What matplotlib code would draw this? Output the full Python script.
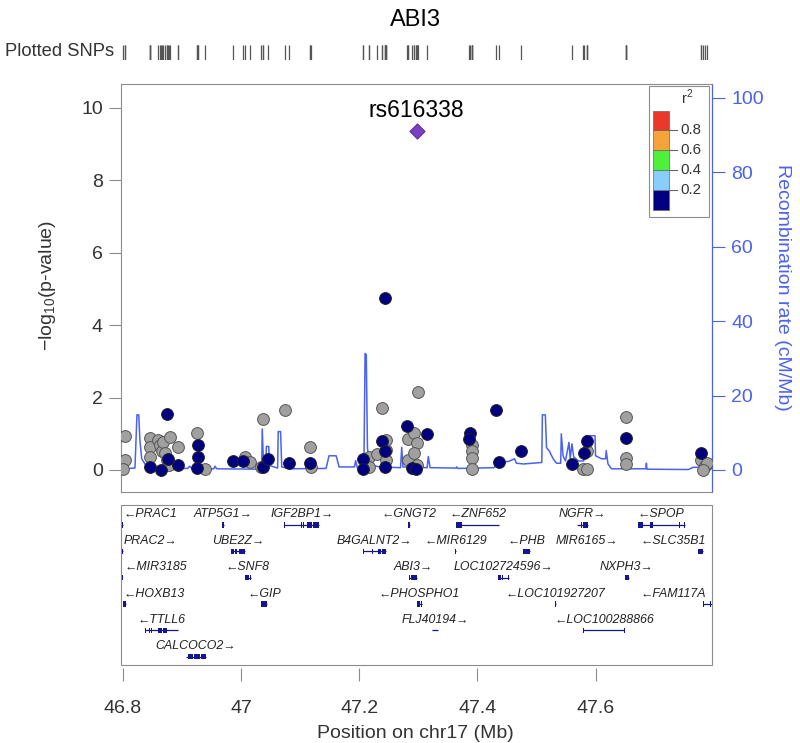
import numpy as np
import matplotlib
matplotlib.use("Agg")
import matplotlib.pyplot as plt
from matplotlib.patches import Rectangle

plt.rcParams["font.family"] = ["Liberation Sans", "DejaVu Sans"]
plt.rcParams["mathtext.fontset"] = "custom"
plt.rcParams["mathtext.rm"] = "Liberation Sans"

# ---------------- data ----------------
title = "ABI3"
top_snp = "rs616338"
top_pos = 47.297
top_logp = 9.36

# SNPs with no LD information (grey)
gray_pos = [46.804, 46.804, 46.801, 46.846, 46.846, 46.846, 46.860, 46.863, 46.866,
            46.868, 46.871, 46.874, 46.880, 46.878, 46.894, 46.925, 46.939, 47.006,
            47.015, 47.034, 47.037, 47.074, 47.116, 47.119, 47.217, 47.217, 47.231,
            47.239, 47.245, 47.245, 47.245, 47.282, 47.282, 47.300, 47.293, 47.298,
            47.293, 47.298, 47.391, 47.391, 47.391, 47.391, 47.585, 47.579, 47.586,
            47.652, 47.652, 47.652, 47.779, 47.785, 47.788, 47.782]
gray_logp = [0.94, 0.28, 0.02, 0.88, 0.63, 0.36, 0.83, 0.69, 0.51,
             0.78, 0.46, 0.28, 0.92, 0.14, 0.64, 1.01, 0.02, 0.35,
             0.23, 0.09, 1.41, 1.66, 0.64, 0.09, 0.35, 0.09, 0.44,
             1.70, 0.83, 0.55, 0.28, 0.85, 0.28, 2.16, 1.03, 0.74,
             0.48, 0.14, 0.69, 0.51, 0.32, 0.02, 0.51, 0.02, 0.02,
             1.47, 0.32, 0.17, 0.28, 0.10, 0.20, 0.00]

# SNPs with r2 < 0.2 (navy)
navy_pos = [46.874, 46.846, 46.864, 46.877, 46.894, 46.927, 46.927, 46.925, 46.986,
            47.003, 47.037, 47.045, 47.082, 47.116, 47.207, 47.207, 47.238, 47.244,
            47.244, 47.281, 47.315, 47.290, 47.296, 47.432, 47.436, 47.387, 47.386,
            47.474, 47.560, 47.585, 47.580, 47.652, 47.779, 47.243]
navy_logp = [1.54, 0.07, 0.00, 0.30, 0.14, 0.69, 0.37, 0.05, 0.26,
             0.26, 0.09, 0.30, 0.20, 0.20, 0.30, 0.02, 0.81, 0.51,
             0.09, 1.22, 0.99, 0.05, 0.02, 1.66, 0.23, 1.01, 0.85,
             0.51, 0.17, 0.81, 0.46, 0.88, 0.46, 4.74]

# recombination rate (cM/Mb)
recomb_pos = [46.797, 46.8206, 46.824, 46.827, 46.829, 46.832, 46.839, 46.846, 46.910,
              46.913, 46.917, 46.954, 46.956, 46.959, 47.035, 47.036, 47.038, 47.042,
              47.043, 47.047, 47.048, 47.062, 47.063, 47.067, 47.069, 47.082, 47.144,
              47.149, 47.161, 47.166, 47.192, 47.194, 47.197, 47.208, 47.210, 47.212,
              47.214, 47.217, 47.234, 47.270, 47.272, 47.274, 47.315, 47.317, 47.320,
              47.364, 47.365, 47.367, 47.428, 47.436, 47.453, 47.463, 47.466, 47.478,
              47.509, 47.510, 47.515, 47.517, 47.522, 47.525, 47.529, 47.534, 47.541,
              47.542, 47.545, 47.549, 47.555, 47.557, 47.560, 47.563, 47.571, 47.580,
              47.583, 47.599, 47.600, 47.610, 47.617, 47.618, 47.621, 47.627, 47.685,
              47.686, 47.687, 47.757, 47.765, 47.785, 47.797]
recomb_rate = [0.3, 0.5, 14.8, 14.8, 8.0, 3.0, 1.2, 0.5, 0.4,
               1.0, 0.4, 0.3, 1.0, 0.3, 0.2, 11.0, 2.0, 1.0,
               6.3, 6.3, 1.2, 0.5, 10.3, 10.3, 0.8, 0.3, 0.4,
               3.8, 3.8, 0.8, 0.8, 2.5, 0.5, 0.5, 31.3, 31.0,
               6.0, 1.5, 0.8, 0.6, 6.1, 0.8, 0.6, 3.6, 0.6,
               0.5, 0.8, 0.4, 0.6, 2.0, 2.3, 3.0, 1.8, 1.6,
               2.0, 14.8, 14.8, 6.0, 5.0, 4.0, 2.8, 1.8, 1.8,
               9.7, 3.8, 2.4, 7.4, 3.0, 7.0, 3.5, 2.4, 2.4,
               9.2, 9.2, 3.8, 3.0, 3.0, 5.2, 1.6, 0.3, 0.3,
               1.8, 0.2, 0.1, 0.7, 0.7, 0.3]

# genes: name, strand, row, exons (Mb)
gene_name = ["PRAC1", "ATP5G1", "IGF2BP1", "GNGT2", "ZNF652", "NGFR", "SPOP",
             "PRAC2", "UBE2Z", "B4GALNT2", "MIR6129", "PHB", "MIR6165", "SLC35B1",
             "MIR3185", "SNF8", "ABI3", "LOC102724596", "NXPH3",
             "HOXB13", "GIP", "PHOSPHO1", "LOC101927207", "FAM117A",
             "TTLL6", "FLJ40194", "LOC100288866",
             "CALCOCO2"]
gene_strand = ["-", "+", "+", "-", "-", "+", "-",
               "+", "+", "+", "-", "-", "+", "-",
               "-", "-", "+", "+", "+",
               "-", "-", "-", "-", "-",
               "-", "+", "-",
               "+"]
gene_row = [0, 0, 0, 0, 0, 0, 0,
            1, 1, 1, 1, 1, 1, 1,
            2, 2, 2, 2, 2,
            3, 3, 3, 3, 3,
            4, 4, 4,
            5]
gene_exons = [
    [(46.7990, 46.8005)],
    [(46.9680, 46.9710)],
    [(47.0733, 47.0742), (47.1013, 47.1021), (47.1052, 47.1060), (47.1110, 47.1200), (47.1215, 47.1326)],
    [(47.2820, 47.2865)],
    [(47.3641, 47.3742), (47.3850, 47.3862), (47.3905, 47.3917), (47.4360, 47.4368)],
    [(47.5680, 47.5688), (47.5752, 47.5760), (47.5795, 47.5879)],
    [(47.6710, 47.6806), (47.6830, 47.6840), (47.6919, 47.6975), (47.7083, 47.7093), (47.7420, 47.7430), (47.7495, 47.7509)],
    [(46.7990, 46.8003)],
    [(46.9837, 46.9875), (46.9900, 46.9925), (46.9960, 47.0061)],
    [(47.2066, 47.2074), (47.2221, 47.2229), (47.2278, 47.2286), (47.2326, 47.2370), (47.2390, 47.2451)],
    [(47.3629, 47.3633)],
    [(47.4766, 47.4896)],
    [(47.5848, 47.5852)],
    [(47.7734, 47.7816)],
    [(46.7990, 46.7994)],
    [(47.0061, 47.0130), (47.0145, 47.0174)],
    [(47.2844, 47.2852), (47.2880, 47.2984)],
    [(47.4350, 47.4400), (47.4420, 47.4440), (47.4510, 47.4542)],
    [(47.6498, 47.6565)],
    [(46.8009, 46.8054)],
    [(47.0343, 47.0437)],
    [(47.2984, 47.3035), (47.3050, 47.3058)],
    [(47.5320, 47.5335)],
    [(47.7815, 47.7830), (47.7935, 47.7950), (47.8290, 47.8300)],
    [(46.8375, 46.8383), (46.8445, 46.8450), (46.8483, 46.8490), (46.8599, 46.8660), (46.8680, 46.8751), (46.8930, 46.8938)],
    [(47.3226, 47.3234), (47.3329, 47.3337)],
    [(47.5795, 47.5803), (47.5850, 47.5858), (47.6479, 47.6487)],
    [(46.9066, 46.9074), (46.9110, 46.9180), (46.9200, 46.9300), (46.9320, 46.9415)],
]

r2_labels = ["0.2", "0.4", "0.6", "0.8"]
r2_colors = ["#000080", "#87CEFA", "#4EF03B", "#F5A33A", "#E8392A"]

# ---------------- layout ----------------
W, H = 800, 743
xmin, xmax = 46.797, 47.797
blue = "#4A62EE"
axis_gray = "#8c8c8c"
text_gray = "#333333"


def fx(px):
    return px / W


def fy(py):
    return 1 - py / H


fig = plt.figure(figsize=(W / 100, H / 100), dpi=100)

# main association panel
ax = fig.add_axes([fx(121), fy(492), (712 - 121) / W, (492 - 84) / H])
ax2 = ax.twinx()
ax.set_zorder(ax2.get_zorder() + 1)
ax.patch.set_visible(False)

ylo, yhi = -0.61, 10.66
rscale = 9.731
ax.set_xlim(xmin, xmax)
ax.set_ylim(ylo, yhi)
ax2.set_ylim(ylo * rscale, yhi * rscale)

ax2.plot(recomb_pos, recomb_rate, color=blue, lw=1.1, zorder=1)

ax.scatter(gray_pos, gray_logp, s=72, c="#a0a0a0", edgecolors="#555555",
           linewidths=0.7, zorder=3)
ax.scatter(navy_pos, navy_logp, s=72, c=r2_colors[0], edgecolors="#222222",
           linewidths=0.7, zorder=4)
ax.scatter([top_pos], [top_logp], s=60, marker="D", c="#7B3FC4",
           edgecolors="#5B2A99", linewidths=0.7, zorder=5)
ax.annotate(top_snp, (top_pos, top_logp), xytext=(0, 15), textcoords="offset points",
            ha="center", va="center", fontsize=16.5)

ax.set_xticks([])
ax.set_yticks(range(0, 11, 2))
ax.tick_params(axis="y", length=9, width=0.8, color=axis_gray, labelsize=14,
               labelcolor=text_gray, pad=4)
for s in ["left", "top", "bottom"]:
    ax.spines[s].set_color(axis_gray)
    ax.spines[s].set_linewidth(0.8)
ax.spines["right"].set_visible(False)

ax2.set_yticks(range(0, 101, 20))
ax2.tick_params(axis="y", length=9, width=0.8, color=blue, labelsize=14,
                labelcolor=blue, pad=5)
ax2.spines["right"].set_color(blue)
ax2.spines["right"].set_linewidth(0.9)
for s in ["left", "top", "bottom"]:
    ax2.spines[s].set_visible(False)

# plotted SNPs rug
rug = fig.add_axes([fx(121), fy(60), (712 - 121) / W, 15 / H])
rug.set_xlim(xmin, xmax)
rug.set_ylim(0, 1)
rug.vlines(gray_pos + navy_pos + [top_pos], 0, 1, color="#555555", lw=0.9)
rug.axis("off")

# gene panel
axg = fig.add_axes([fx(121), fy(665), (712 - 121) / W, (665 - 505) / H])
axg.set_xlim(xmin, xmax)
axg.set_ylim(5.31, -0.76)
axg.set_yticks([])
for s in ["left", "top", "right"]:
    axg.spines[s].set_visible(False)
axg.spines["bottom"].set_position(("outward", 2.5))
axg.spines["bottom"].set_visible(False)
axg.add_patch(Rectangle((0, 0), 1, 1, transform=axg.transAxes, fill=False,
                        ec=axis_gray, lw=0.8, clip_on=False))
axg.set_xticks([46.8, 47.0, 47.2, 47.4, 47.6])
axg.set_xticklabels(["46.8", "47", "47.2", "47.4", "47.6"])
axg.tick_params(axis="x", length=9, width=0.8, color=axis_gray, labelsize=14,
                labelcolor=text_gray, pad=14)

gene_col = "#15158f"
min_w = 0.0012
renderer = fig.canvas.get_renderer()
panel_l = fx(121) * W
panel_r = fx(712) * W
for name, strand, row, exons in zip(gene_name, gene_strand, gene_row, gene_exons):
    g0 = exons[0][0]
    g1 = exons[-1][1]
    axg.plot([g0, g1], [row, row], color=gene_col, lw=0.9, solid_capstyle="butt")
    for e0, e1 in exons:
        w = max(e1 - e0, min_w)
        axg.add_patch(Rectangle((e0, row - 0.1), w, 0.2, fc=gene_col, ec="none"))
    label = "\u2190" + name if strand == "-" else name + "\u2192"
    mid = (g0 + min(g1, xmax)) / 2
    t = axg.text(mid, row - 0.4, label, ha="center", va="center", fontsize=8.9,
                 style="italic", color="#222222")
    bb = t.get_window_extent(renderer)
    shift = 0
    if bb.x0 < panel_l + 3:
        shift = panel_l + 3 - bb.x0
    elif bb.x1 > panel_r - 6:
        shift = panel_r - 6 - bb.x1
    if shift:
        x_disp = axg.transData.transform((mid, 0))[0] + shift
        t.set_x(axg.transData.inverted().transform((x_disp, 0))[0])

# text labels
fig.text(fx(415), fy(20), title, ha="center", va="center", fontsize=17)
fig.text(fx(5), fy(52), "Plotted SNPs", ha="left", va="center", fontsize=13.2,
         color=text_gray)
fig.text(fx(48), fy(285), r"$\mathregular{-log_{10}}$(p-value)", rotation=90,
         ha="center", va="center", fontsize=14, color=text_gray)
fig.text(fx(782), fy(287), "Recombination rate (cM/Mb)", rotation=270,
         ha="center", va="center", fontsize=14, color=blue)
fig.text(fx(415), fy(733), "Position on chr17 (Mb)", ha="center", va="center",
         fontsize=14, color=text_gray)

# r2 legend
ov = fig.add_axes([0, 0, 1, 1])
ov.set_xlim(0, W)
ov.set_ylim(H, 0)
ov.axis("off")
ov.add_patch(Rectangle((649, 86), 60, 131, fc="white", ec=axis_gray, lw=0.8))
band_h = 19.9
for i, c in enumerate(r2_colors):
    ov.add_patch(Rectangle((652.7, 210 - (i + 1) * band_h), 16.5, band_h,
                           fc=c, ec="#666666", lw=0.5))
for i, lab in enumerate(r2_labels):
    yy = 210 - (i + 1) * band_h
    ov.plot([669.2, 677], [yy, yy], color="#666666", lw=0.8)
    ov.text(680, yy, lab, ha="left", va="center", fontsize=10.8, color=text_gray)
ov.text(687, 97, r"r$^2$", ha="center", va="center", fontsize=10.5, color=text_gray)

fig.savefig("out.png", dpi=100)
